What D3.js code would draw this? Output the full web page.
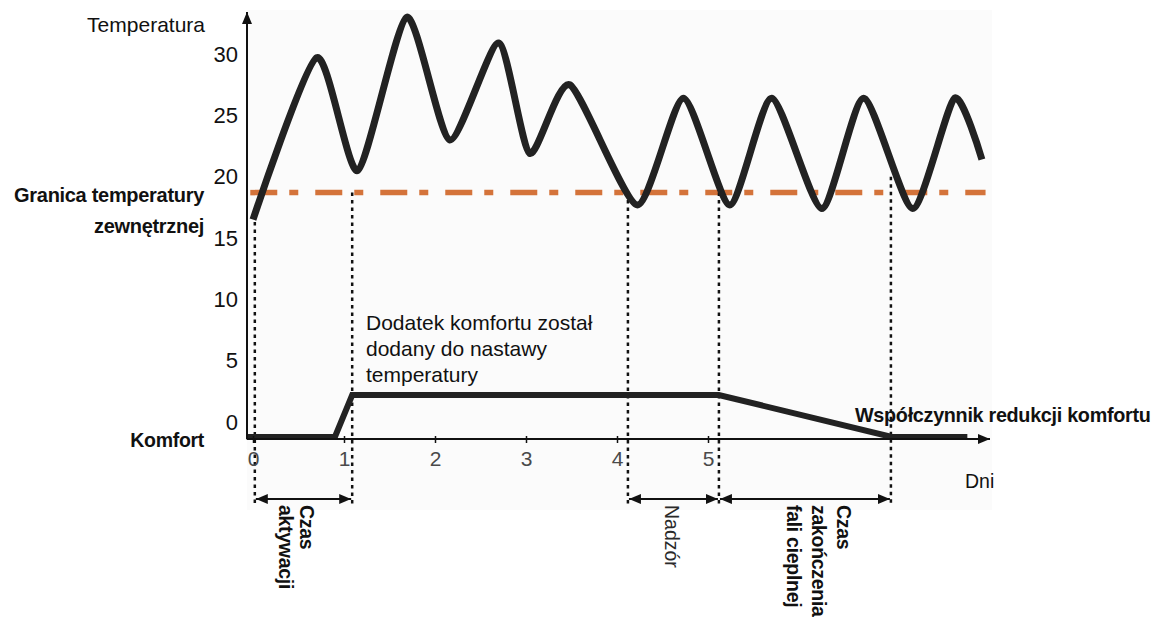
<!DOCTYPE html>
<html>
<head>
<meta charset="utf-8">
<script src="https://cdn.jsdelivr.net/npm/d3@7"></script>
<style>
  body { margin: 0; background: #fff; }
  svg { display: block; font-family: "Liberation Sans", Arial, sans-serif; }
</style>
</head>
<body>
<div id="chart"></div>
<script>
// Outdoor temperature (day, °C) - peaks and troughs
const tempDays = [0, 0.70, 1.15, 1.69, 2.16, 2.70, 3.04, 3.48, 4.22, 4.73, 5.24, 5.70, 6.25, 6.71, 7.25, 7.71, 8.01];
const tempValues = [16.5, 29.7, 20.5, 33.0, 23.0, 30.9, 21.9, 27.5, 17.7, 26.4, 17.7, 26.4, 17.4, 26.4, 17.4, 26.4, 21.4];

// Comfort add-on (0 = off, 1 = full)
const comfortDays = [-0.07, 0.90, 1.09, 5.12, 7.02, 7.85];
const comfortValues = [0, 0, 1, 1, 0, 0];

// Outdoor temperature limit
const limitTemp = 18.7;
const limitDays = [-0.03, 8.05];

// Event markers (day, temperature where the dotted line starts)
const eventDays = [0.02, 1.09, 4.12, 5.12, 7.01];
const eventTops = [16.3, 18.7, 18.7, 18.7, 20.0];

// Ticks
const yTicks = [0, 5, 10, 15, 20, 25, 30];
const xTicks = [0, 1, 2, 3, 4, 5];

// Time spans under the axis
const spans = [
  { from: 0.02, to: 1.09, lines: ['Czas', 'aktywacji'], bold: true },
  { from: 4.12, to: 5.12, lines: ['Nadzór'], bold: false },
  { from: 5.12, to: 7.01, lines: ['Czas', 'zakończenia', 'fali cieplnej'], bold: true }
];

const W = 1154, H = 619;
const x = d3.scaleLinear().domain([0, 8]).range([253, 981]);
const y = d3.scaleLinear().domain([0, 30]).range([422, 54]);
const yc = d3.scaleLinear().domain([0, 1]).range([437, 395]);

const axisX = 247, axisY = 439;

const svg = d3.select('#chart').append('svg')
  .attr('width', W).attr('height', H);

const defs = svg.append('defs');
defs.append('marker')
  .attr('id', 'head')
  .attr('viewBox', '0 0 12 10')
  .attr('refX', 12).attr('refY', 5)
  .attr('markerWidth', 12).attr('markerHeight', 10)
  .attr('markerUnits', 'userSpaceOnUse')
  .attr('orient', 'auto-start-reverse')
  .append('path').attr('d', 'M0,0 L12,5 L0,10 Z').attr('fill', '#111');

// faint plot background
svg.append('rect')
  .attr('x', axisX).attr('y', 10)
  .attr('width', 992 - axisX).attr('height', 500)
  .attr('fill', '#fbfbfb');

// limit line
svg.append('line')
  .attr('x1', x(limitDays[0])).attr('x2', x(limitDays[1]))
  .attr('y1', y(limitTemp)).attr('y2', y(limitTemp))
  .attr('stroke', '#d4733a')
  .attr('stroke-width', 5.5)
  .attr('stroke-dasharray', '27,12,9,17');

// dotted event lines
svg.selectAll('line.event')
  .data(eventDays)
  .enter()
  .append('line')
  .attr('class', 'event')
  .attr('x1', d => x(d)).attr('x2', d => x(d))
  .attr('y1', (d, i) => y(eventTops[i]))
  .attr('y2', 505)
  .attr('stroke', '#111')
  .attr('stroke-width', 2.5)
  .attr('stroke-dasharray', '3.5,4');

// temperature curve
const tempLine = d3.line()
  .x((d, i) => x(tempDays[i]))
  .y(d => y(d))
  .curve(d3.curveCardinal.tension(0.35));

svg.append('path')
  .datum(tempValues)
  .attr('d', tempLine)
  .attr('fill', 'none')
  .attr('stroke', '#222')
  .attr('stroke-width', 7)
  .attr('stroke-linejoin', 'round');

// comfort line
const comfortLine = d3.line()
  .x((d, i) => x(comfortDays[i]))
  .y(d => yc(d));

svg.append('path')
  .datum(comfortValues)
  .attr('d', comfortLine)
  .attr('fill', 'none')
  .attr('stroke', '#222')
  .attr('stroke-width', 6);

// axes lines with arrow heads
svg.append('line')
  .attr('x1', axisX).attr('y1', axisY)
  .attr('x2', axisX).attr('y2', 12)
  .attr('stroke', '#111').attr('stroke-width', 2)
  .attr('marker-end', 'url(#head)');

svg.append('line')
  .attr('x1', axisX).attr('y1', axisY)
  .attr('x2', 990).attr('y2', axisY)
  .attr('stroke', '#111').attr('stroke-width', 2)
  .attr('marker-end', 'url(#head)');

// x ticks
const xAxis = svg.append('g')
  .attr('transform', `translate(0, ${axisY})`)
  .call(d3.axisBottom(x).tickValues(xTicks).tickSize(4).tickPadding(8).tickFormat(d3.format('d')));
xAxis.select('.domain').remove();
xAxis.selectAll('.tick line').attr('y1', -3).attr('stroke', '#111').attr('stroke-width', 1.5);
xAxis.selectAll('.tick text')
  .attr('font-size', 21)
  .attr('font-family', '"Liberation Sans", Arial, sans-serif')
  .attr('fill', '#4a4a4a');

// y tick labels (no tick marks)
const yAxis = svg.append('g')
  .attr('transform', 'translate(238, 0)')
  .call(d3.axisLeft(y).tickValues(yTicks).tickSize(0).tickPadding(0));
yAxis.select('.domain').remove();
yAxis.selectAll('.tick text')
  .attr('font-size', 22)
  .attr('font-family', '"Liberation Sans", Arial, sans-serif')
  .attr('fill', '#111');

// labels
function label(txt, px, py, opts = {}) {
  svg.append('text')
    .attr('x', px).attr('y', py)
    .attr('text-anchor', opts.anchor || 'start')
    .attr('font-size', opts.size || 21)
    .attr('font-weight', opts.bold ? 'bold' : 'normal')
    .attr('letter-spacing', opts.bold ? -0.3 : 0)
    .attr('fill', opts.fill || '#111')
    .text(txt);
}

label('Temperatura', 205, 32, { anchor: 'end', size: 21 });
label('Granica temperatury', 204, 202, { anchor: 'end', size: 20, bold: true });
label('zewnętrznej', 204, 233, { anchor: 'end', size: 20, bold: true });
label('Komfort', 204, 447, { anchor: 'end', size: 19.5, bold: true });
label('Współczynnik redukcji komfortu', 855, 422, { size: 19.8, bold: true });
label('Dni', 965, 488, { size: 19.5 });

['Dodatek komfortu został', 'dodany do nastawy', 'temperatury'].forEach((t, i) => {
  label(t, 366, 330 + i * 26, { size: 21 });
});

// span arrows and rotated labels
const spanY = 499;
spans.forEach(s => {
  svg.append('line')
    .attr('x1', x(s.from) + 1).attr('x2', x(s.to) - 1)
    .attr('y1', spanY).attr('y2', spanY)
    .attr('stroke', '#111').attr('stroke-width', 2)
    .attr('marker-start', 'url(#head)')
    .attr('marker-end', 'url(#head)');
});

const spanText = [
  { base: [300, 279], span: 0 },
  { base: [665], span: 1 },
  { base: [837, 812, 787], span: 2 }
];
spanText.forEach(st => {
  const s = spans[st.span];
  s.lines.forEach((t, i) => {
    svg.append('text')
      .attr('transform', `translate(${st.base[i]}, 505) rotate(90)`)
      .attr('font-size', 19.5)
      .attr('font-weight', s.bold ? 'bold' : 'normal')
      .attr('letter-spacing', s.bold ? -0.3 : 0)
      .attr('fill', s.bold ? '#111' : '#2a2a2a')
      .text(t);
  });
});
</script>
</body>
</html>
